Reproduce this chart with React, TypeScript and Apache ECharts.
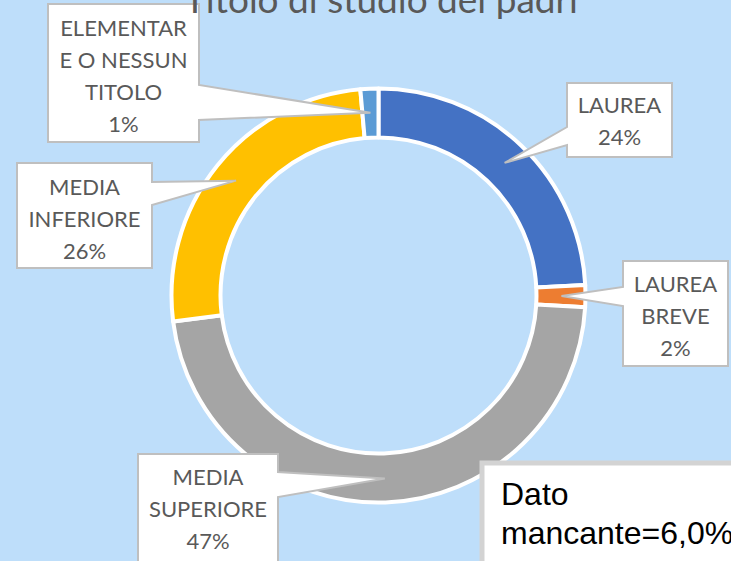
import React, { useEffect, useRef } from "react";
import * as echarts from "echarts";

// ---- data ----
const titleText = "Titolo di studio dei padri";
const categories = ["LAUREA", "LAUREA BREVE", "MEDIA SUPERIORE", "MEDIA INFERIORE", "ELEMENTARE O NESSUN TITOLO"];
const values = [24.2, 1.7, 47.1, 25.6, 1.4];
const labelLines = [
  ["LAUREA"],
  ["LAUREA", "BREVE"],
  ["MEDIA", "SUPERIORE"],
  ["MEDIA", "INFERIORE"],
  ["ELEMENTAR", "E O NESSUN", "TITOLO"],
];
const missingNote = ["Dato", "mancante=6,0%"];

// ---- style / layout ----
const colors = ["#4472C4", "#ED7D31", "#A5A5A5", "#FFC000", "#5B9BD5"];
const BG = "#BEDEFA";
const CX = 378.5;
const CY = 295.5;
const R_IN = 158;
const R_OUT = 207;
const TIP_R = 183;
// callout boxes: [x0, y0, x1, y1], side of wedge, wedge base [b0, b1], text centre y
const boxes: { box: number[]; side: "left" | "right"; base: number[]; ty: number }[] = [
  { box: [567, 83, 672, 157], side: "left", base: [127, 145], ty: 120.5 },
  { box: [623, 261, 728, 366], side: "left", base: [287, 306], ty: 315 },
  { box: [138, 454, 278, 580], side: "right", base: [472, 497], ty: 508 },
  { box: [17, 163, 152, 268], side: "right", base: [182, 205], ty: 218 },
  { box: [48, 4, 199, 142], side: "right", base: [85, 120], ty: 75 },
];

export default function App() {
  const ref = useRef<HTMLDivElement>(null);
  useEffect(() => {
    if (!ref.current) return;
    const chart = echarts.init(ref.current, undefined, { renderer: "svg" });
    const total = values.reduce((a, b) => a + b, 0);
    let cum = 0;
    const graphics: any[] = [];
    values.forEach((v, i) => {
      const mid = ((cum + v / 2) / total) * Math.PI * 2;
      cum += v;
      const tx = CX + TIP_R * Math.sin(mid);
      const ty = CY - TIP_R * Math.cos(mid);
      const { box, side, base } = boxes[i];
      const [x0, y0, x1, y1] = box;
      let pts: number[][];
      if (side === "right") {
        pts = [[x0, y0], [x1, y0], [x1, base[0]], [tx, ty], [x1, base[1]], [x1, y1], [x0, y1]];
      } else {
        pts = [[x0, y0], [x1, y0], [x1, y1], [x0, y1], [x0, base[1]], [tx, ty], [x0, base[0]]];
      }
      graphics.push({
        type: "polygon",
        z: 10,
        shape: { points: pts },
        style: { fill: "#FFFFFF", stroke: "#BFBFBF", lineWidth: 2 },
        silent: true,
      });
      const pct = Math.round((v / total) * 100) + "%";
      const lines = [...labelLines[i], pct];
      graphics.push({
        type: "text",
        z: 11,
        x: (x0 + x1) / 2,
        y: boxes[i].ty,
        style: {
          text: lines.join("\n"),
          fontSize: 22,
          fontFamily: "Lato",
          fill: "#595959",
          lineHeight: 32,
          align: "center",
          verticalAlign: "middle",
          textAlign: "center",
          textVerticalAlign: "middle",
        },
        silent: true,
      });
    });
    // missing data note
    graphics.push({
      type: "rect",
      z: 12,
      shape: { x: 482, y: 463, width: 270, height: 120 },
      style: { fill: "#FFFFFF", stroke: "#D3D3D3", lineWidth: 5 },
      silent: true,
    });
    missingNote.forEach((t, k) => {
      graphics.push({
        type: "text",
        z: 13,
        x: 501,
        y: 494 + k * 39,
        style: {
          text: t,
          fontSize: 32,
          fontFamily: "Liberation Sans",
          fill: "#000000",
          align: "left",
          verticalAlign: "middle",
          textAlign: "left",
          textVerticalAlign: "middle",
        },
        silent: true,
      });
    });
    // title (drawn above the callouts, as in the reference)
    graphics.push({
      type: "text",
      z: 14,
      x: 381,
      y: -2,
      style: {
        text: titleText,
        fontSize: 37,
        fontFamily: "Lato",
        fill: "#595959",
        align: "center",
        verticalAlign: "middle",
        textAlign: "center",
        textVerticalAlign: "middle",
      },
      silent: true,
    });

    chart.setOption({
      animation: false,
      backgroundColor: BG,
      series: [
        {
          type: "pie",
          center: [CX, CY],
          radius: [R_IN, R_OUT],
          startAngle: 90,
          clockwise: true,
          silent: true,
          label: { show: false },
          labelLine: { show: false },
          itemStyle: { borderColor: "#FFFFFF", borderWidth: 4 },
          data: categories.map((c, i) => ({
            name: c,
            value: values[i],
            itemStyle: { color: colors[i] },
          })),
        },
      ],
      graphic: graphics,
    });
    return () => chart.dispose();
  }, []);
  return (
    <div
      ref={ref}
      style={{ position: "fixed", left: 0, top: 0, width: 731, height: 561 }}
    />
  );
}
